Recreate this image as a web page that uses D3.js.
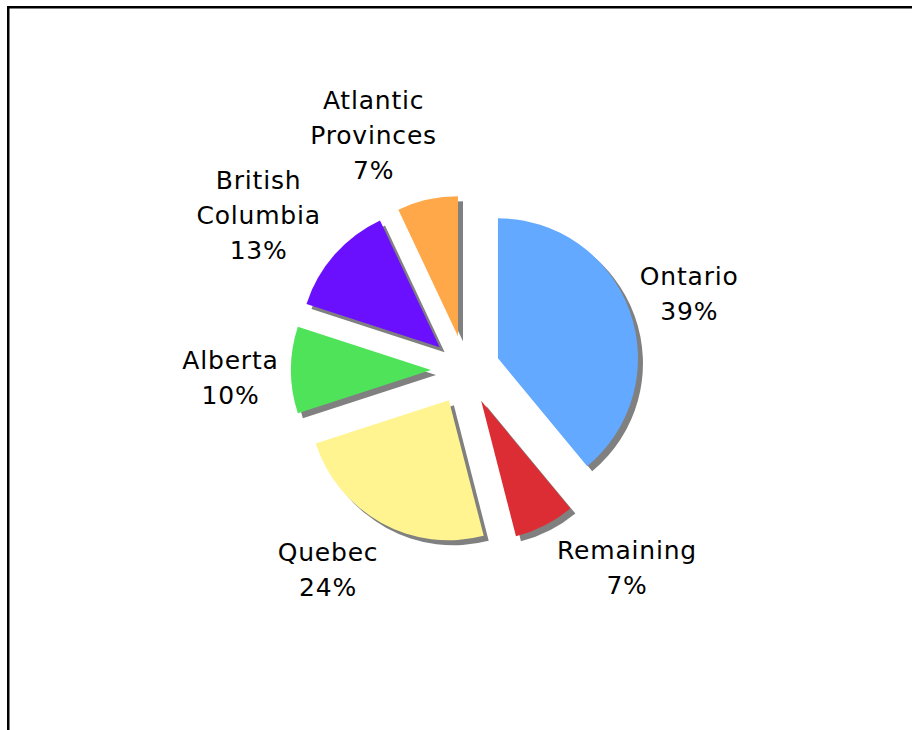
<!DOCTYPE html>
<html>
<head>
<meta charset="utf-8">
<script src="https://cdn.jsdelivr.net/npm/d3@7"></script>
<style>
  html, body { margin: 0; padding: 0; background: #fff; }
  svg { display: block; }
</style>
</head>
<body>
<svg id="chart" width="912" height="730"></svg>
<script>
// Share of total by region, in percent, clockwise from 12 o'clock
const regions = ["Ontario", "Remaining", "Quebec", "Alberta", "British Columbia", "Atlantic Provinces"];
const shares = [39, 7, 24, 10, 13, 7];
const sliceColors = ["#63a9ff", "#dc2d35", "#fff48f", "#4fe35a", "#6a10ff", "#ffa849"];

const W = 912, H = 730;
const svg = d3.select("#chart");

// frame around the chart area
svg.append("rect")
  .attr("x", 8.25).attr("y", 7.25)
  .attr("width", W + 20).attr("height", H + 20)
  .attr("fill", "#fff")
  .attr("stroke", "#000")
  .attr("stroke-width", 2.5);

const cx = 465.5, cy = 370;
const radius = 140, explode = 34.5, shadowOff = 5;

const pie = d3.pie().sort(null).value(d => d);
const arcs = pie(shares);
const arc = d3.arc().innerRadius(0).outerRadius(radius);

// unit vector at a given angle (clockwise from 12 o'clock)
const unit = m => [Math.sin(m), -Math.cos(m)];
const midAngle = a => (a.startAngle + a.endAngle) / 2;

const g = svg.append("g").attr("transform", `translate(${cx},${cy})`);

// drop shadows first, slices on top
g.selectAll("path.shadow").data(arcs).join("path")
  .attr("class", "shadow")
  .attr("transform", d => {
    const [dx, dy] = unit(midAngle(d));
    return `translate(${dx * explode + shadowOff},${dy * explode + shadowOff})`;
  })
  .attr("d", arc)
  .attr("fill", "#808080");

g.selectAll("path.slice").data(arcs).join("path")
  .attr("class", "slice")
  .attr("transform", d => {
    const [dx, dy] = unit(midAngle(d));
    return `translate(${dx * explode},${dy * explode})`;
  })
  .attr("d", arc)
  .attr("fill", (d, i) => sliceColors[i]);

// category + percentage labels, pushed outside the exploded slices
const fontSize = 25, lineH = 35, capH = 18, labelR = 150;
const labelTurn = -1.5 * Math.PI / 180;
const clamp = (v, lo, hi) => Math.max(lo, Math.min(hi, v));

arcs.forEach((a, i) => {
  const lines = regions[i].split(" ").concat([shares[i] + "%"]);
  const [dx, dy] = unit(midAngle(a));
  const [tx, ty] = unit(midAngle(a) + labelTurn);
  const ax = tx * (explode + labelR);
  const ay = ty * (explode + labelR);

  const t = g.append("text")
    .attr("font-family", "DejaVu Sans, Verdana, sans-serif")
    .attr("font-size", fontSize)
    .attr("letter-spacing", 0.8)
    .attr("fill", "#000")
    .attr("text-anchor", "middle");

  lines.forEach((s, k) => {
    t.append("tspan").attr("x", 0).attr("y", k * lineH).text(s);
  });

  // shift the text block outward so it clears the anchor point
  const w = t.node().getBBox().width;
  const h = (lines.length - 1) * lineH + capH;
  const fx = clamp(dx * 3.4, -1.05, 1.05);
  const fy = 1.4 * dy + 0.1;
  const lx = ax + fx * w / 2;
  const ly = ay + fy * h / 2;
  const firstBase = ly - h / 2 + capH;
  t.selectAll("tspan")
    .attr("x", lx)
    .attr("y", (s, k) => firstBase + k * lineH);
});
</script>
</body>
</html>
